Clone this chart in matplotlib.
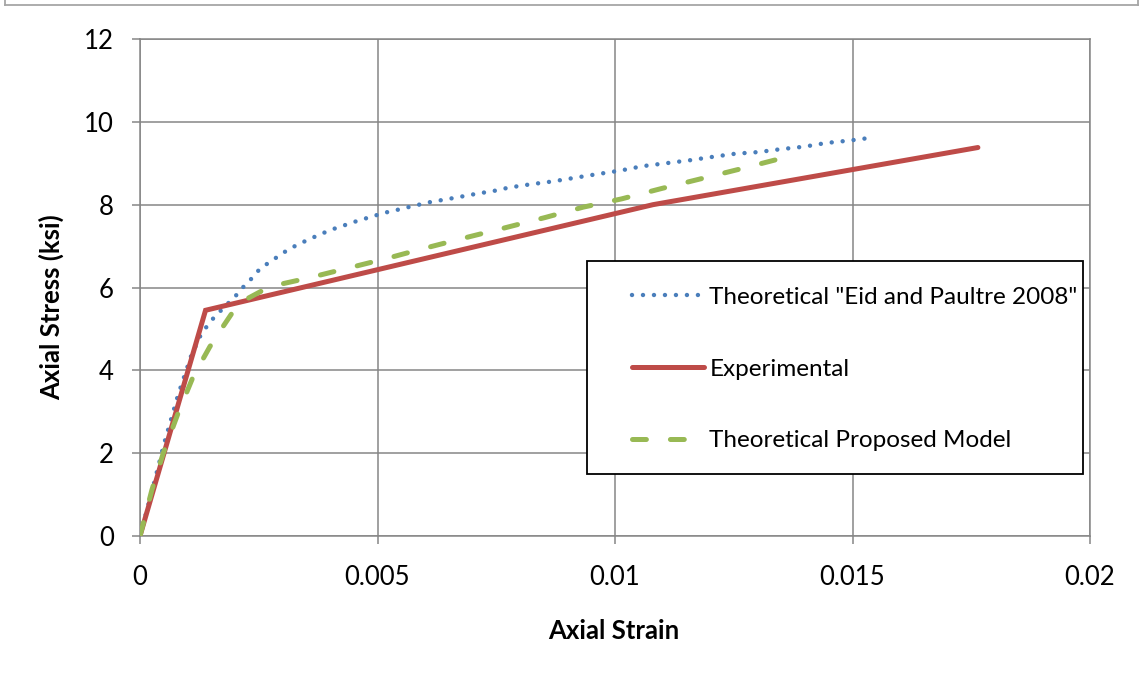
import matplotlib
matplotlib.use("Agg")
import matplotlib.pyplot as plt
from matplotlib.lines import Line2D
from matplotlib.patches import Rectangle

plt.rcParams['font.family'] = ['Lato', 'DejaVu Sans']
plt.rcParams['lines.scale_dashes'] = False

# Theoretical "Eid and Paultre 2008"
eid_strain = [0, 0.0003, 0.0005, 0.0008, 0.00107, 0.00126, 0.0014, 0.00156, 0.00204,
              0.00221, 0.00237, 0.00253, 0.00274, 0.00293, 0.00314, 0.00335, 0.00357,
              0.00379, 0.00401, 0.00425, 0.00447, 0.0047, 0.00493, 0.00517, 0.0054,
              0.00565, 0.0061, 0.0066, 0.00707, 0.00754, 0.00775, 0.00821, 0.00868,
              0.00916, 0.00964, 0.0101, 0.01058, 0.01107, 0.01156, 0.01203, 0.01253,
              0.01302, 0.01349, 0.01398, 0.01445, 0.01495, 0.01542]
eid_stress = [0, 1.3, 2.2, 3.4, 4.33, 4.81, 5.05, 5.28, 5.83,
              6.06, 6.24, 6.46, 6.62, 6.77, 6.93, 7.05, 7.17,
              7.28, 7.39, 7.48, 7.57, 7.65, 7.73, 7.81, 7.87,
              7.94, 8.06, 8.16, 8.26, 8.35, 8.41, 8.49, 8.56,
              8.65, 8.74, 8.82, 8.93, 9.0, 9.07, 9.15, 9.23,
              9.27, 9.34, 9.4, 9.49, 9.55, 9.62]

# Experimental
exp_strain = [0, 0.00138, 0.0108, 0.01764]
exp_stress = [0, 5.45, 8.0, 9.38]

# Theoretical Proposed Model
prop_strain = [0, 0.00025, 0.00049, 0.0008, 0.00112, 0.00147, 0.00165, 0.00196, 0.00221,
               0.0026, 0.00288, 0.00351, 0.00435, 0.00519, 0.0059, 0.00688, 0.00768,
               0.00853, 0.00933, 0.01014, 0.01098, 0.01179, 0.01263, 0.01344, 0.01361]
prop_stress = [0, 1.11, 2.0, 2.96, 3.85, 4.57, 4.89, 5.42, 5.7,
               5.94, 6.06, 6.22, 6.46, 6.7, 6.92, 7.21, 7.44,
               7.69, 7.94, 8.14, 8.39, 8.62, 8.86, 9.1, 9.15]

x_ticks = [0, 0.005, 0.01, 0.015, 0.02]
x_tick_labels = ["0", "0.005", "0.01", "0.015", "0.02"]
y_ticks = [0, 2, 4, 6, 8, 10, 12]

W, H = 1144, 679
fig = plt.figure(figsize=(W / 100, H / 100), dpi=100)
ax = fig.add_axes([140 / W, 1 - 536 / H, 950 / W, 497 / H])

grid_c = "#868686"
blue = "#4a7ebb"
red = "#be4b48"
green = "#98b954"

ax.plot(eid_strain, eid_stress, color=blue, lw=3.2, linestyle=(0, (0.01, 7.9)),
        dash_capstyle='round', solid_capstyle='round',
        label='Theoretical "Eid and Paultre 2008"', zorder=3)
ax.plot(exp_strain, exp_stress, color=red, lw=3.6, solid_capstyle='round',
        solid_joinstyle='miter', label="Experimental", zorder=4)
ax.plot(prop_strain, prop_stress, color=green, lw=3.6, linestyle=(0, (10, 17.3)),
        dash_capstyle='round', label="Theoretical Proposed Model", zorder=5)

ax.set_xlim(0, 0.02)
ax.set_ylim(0, 12)
ax.set_xticks(x_ticks)
ax.set_xticklabels(x_tick_labels)
ax.set_yticks(y_ticks)
ax.grid(True, color=grid_c, lw=1.1)
ax.set_axisbelow(True)
for s in ax.spines.values():
    s.set_color(grid_c)
    s.set_linewidth(1.1)
ax.tick_params(axis='both', direction='out', length=5.8, width=1.1, color=grid_c,
               labelsize=18.5, labelcolor="black")
ax.tick_params(axis='y', pad=13)
ax.tick_params(axis='x', pad=15)

fig.text(614 / W, 1 - 631 / H, "Axial Strain", ha="center", va="center",
         fontsize=18.5, fontweight="bold")
fig.text(51 / W, 1 - 307 / H, "Axial Stress (ksi)", ha="center", va="center",
         rotation=90, fontsize=18.5, fontweight="bold")

# legend box with its own frame
frame = Rectangle((587 / W, 1 - 474 / H), (1083 - 587) / W, (474 - 261) / H,
                  transform=fig.transFigure, facecolor="white", edgecolor="black",
                  lw=1.3, zorder=6)
fig.add_artist(frame)
leg = ax.legend(loc="center left", bbox_to_anchor=(632 / W, 1 - 369 / H),
                bbox_transform=fig.transFigure, fontsize=17.5, frameon=False,
                handlelength=2.96, handletextpad=0.22, labelspacing=2.09,
                borderpad=0, borderaxespad=0)
leg.set_zorder(7)
leg.remove()
fig.add_artist(leg)

# outer chart-area border
for xs, ys in [((5, 5), (0, 5)), ((5, 1138), (5, 5)), ((1138, 1138), (5, 0))]:
    fig.add_artist(Line2D([x / W for x in xs], [1 - y / H for y in ys],
                          color="#a6a6a6", lw=1.3, transform=fig.transFigure))

fig.savefig("out.png", dpi=100)
